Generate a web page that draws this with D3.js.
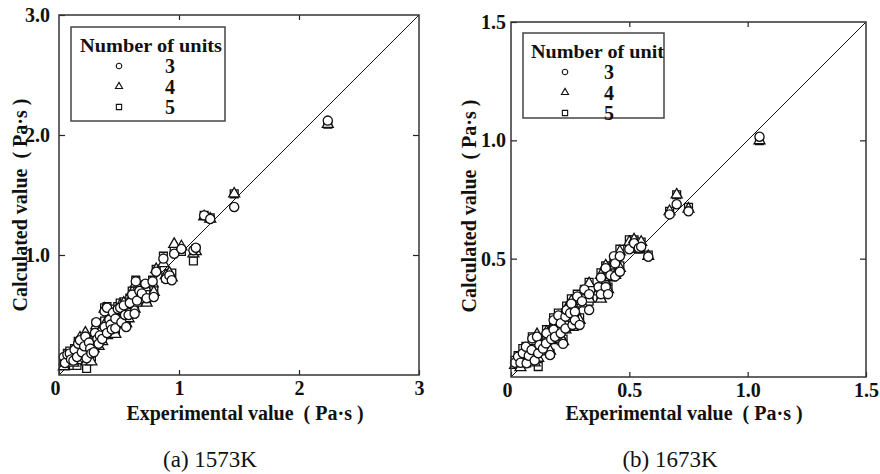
<!DOCTYPE html>
<html>
<head>
<meta charset="utf-8">
<script src="https://cdn.jsdelivr.net/npm/d3@7"></script>
<style>
  html, body { margin: 0; padding: 0; background: #fff; }
  svg text { font-family: "Liberation Serif", "Times New Roman", serif; }
  .axis path { display: none; }
  .axis line { stroke: #222; stroke-width: 1.2; }
  .axis text { font-size: 20px; font-weight: bold; fill: #111; font-family: "Liberation Serif", serif; }
</style>
</head>
<body>
<svg id="chart" width="880" height="474"></svg>
<script>
// (a) 1573K : experimental value and calculated values for 3, 4 and 5 units
const expA   = [0.04,0.05,0.07,0.09,0.10,0.12,0.13,0.15,0.16,0.175,0.19,0.21,0.22,0.23,0.25,0.26,0.27,0.29,0.30,0.31,0.32,0.33,0.34,0.36,0.38,0.38,0.40,0.40,0.42,0.43,0.44,0.45,0.47,0.47,0.49,0.51,0.52,0.54,0.55,0.56,0.58,0.59,0.61,0.63,0.64,0.65,0.67,0.69,0.72,0.73,0.78,0.79,0.81,0.87,0.89,0.92,0.94,0.96,1.02,1.12,1.14,1.21,1.26,1.46,2.24];
const calcA3 = [0.15,0.10,0.17,0.18,0.13,0.12,0.21,0.15,0.26,0.29,0.19,0.24,0.32,0.14,0.27,0.22,0.18,0.19,0.35,0.44,0.30,0.26,0.33,0.30,0.40,0.53,0.35,0.56,0.46,0.42,0.38,0.52,0.47,0.39,0.55,0.56,0.44,0.58,0.50,0.40,0.50,0.60,0.67,0.51,0.78,0.62,0.70,0.68,0.76,0.64,0.78,0.65,0.86,0.97,0.80,0.83,0.79,1.01,1.05,1.04,1.06,1.33,1.30,1.40,2.12];
const calcA4 = [0.07,0.12,0.14,0.16,0.11,0.10,0.19,0.12,0.24,0.31,0.16,0.26,0.35,0.11,0.25,0.20,0.11,0.22,0.37,0.41,0.28,0.24,0.36,0.28,0.42,0.55,0.33,0.54,0.48,0.40,0.36,0.50,0.45,0.34,0.53,0.58,0.42,0.60,0.52,0.43,0.47,0.62,0.69,0.55,0.76,0.60,0.66,0.63,0.73,0.60,0.76,0.69,0.88,0.93,0.83,0.85,0.81,1.09,1.07,1.01,1.03,1.32,1.30,1.51,2.09];
const calcA5 = [0.10,0.09,0.18,0.20,0.12,0.08,0.22,0.08,0.28,0.27,0.14,0.22,0.30,0.055,0.29,0.24,0.15,0.24,0.33,0.43,0.32,0.28,0.31,0.32,0.45,0.56,0.38,0.57,0.44,0.44,0.40,0.55,0.49,0.37,0.57,0.60,0.46,0.61,0.54,0.45,0.52,0.64,0.70,0.57,0.79,0.64,0.68,0.66,0.75,0.62,0.79,0.71,0.88,0.99,0.81,0.84,0.85,1.04,1.03,0.95,1.05,1.33,1.31,1.51,2.09];

// (b) 1673K
const expB   = [0.017,0.03,0.04,0.05,0.063,0.066,0.075,0.087,0.09,0.10,0.11,0.115,0.12,0.135,0.148,0.15,0.165,0.17,0.18,0.18,0.186,0.20,0.21,0.21,0.22,0.23,0.23,0.235,0.25,0.255,0.26,0.27,0.27,0.28,0.29,0.30,0.31,0.33,0.33,0.37,0.38,0.38,0.40,0.40,0.41,0.42,0.435,0.44,0.44,0.46,0.46,0.50,0.52,0.54,0.55,0.58,0.67,0.70,0.75,1.05];
const calcB3 = [0.06,0.086,0.06,0.10,0.128,0.058,0.09,0.114,0.163,0.07,0.17,0.10,0.135,0.12,0.142,0.185,0.093,0.16,0.24,0.20,0.17,0.26,0.227,0.185,0.14,0.255,0.205,0.283,0.27,0.31,0.22,0.276,0.24,0.34,0.22,0.32,0.37,0.283,0.35,0.38,0.42,0.35,0.38,0.46,0.35,0.43,0.51,0.48,0.425,0.445,0.51,0.54,0.565,0.545,0.55,0.508,0.687,0.73,0.70,1.015];
const calcB4 = [0.05,0.07,0.04,0.09,0.11,0.07,0.08,0.10,0.15,0.06,0.18,0.08,0.12,0.13,0.15,0.19,0.11,0.155,0.22,0.21,0.16,0.25,0.21,0.17,0.15,0.26,0.20,0.29,0.29,0.32,0.21,0.28,0.23,0.33,0.24,0.31,0.36,0.33,0.395,0.36,0.43,0.33,0.40,0.47,0.37,0.42,0.49,0.47,0.43,0.46,0.53,0.57,0.58,0.54,0.57,0.51,0.70,0.77,0.71,0.999];
const calcB5 = [0.07,0.09,0.05,0.12,0.13,0.06,0.10,0.12,0.17,0.075,0.16,0.044,0.14,0.11,0.16,0.20,0.10,0.17,0.25,0.22,0.18,0.27,0.23,0.19,0.16,0.27,0.22,0.30,0.30,0.33,0.23,0.30,0.25,0.35,0.25,0.34,0.37,0.32,0.40,0.37,0.44,0.34,0.41,0.47,0.38,0.45,0.50,0.49,0.44,0.47,0.54,0.58,0.58,0.54,0.57,0.515,0.70,0.77,0.717,0.999];

const unitLabels = ["3", "4", "5"];

const svg = d3.select("#chart");

function drawPanel(p) {
  const x = d3.scaleLinear().domain([0, p.max]).range([p.left, p.right]);
  const y = d3.scaleLinear().domain([0, p.max]).range([p.bottom, p.top]);
  const g = svg.append("g");

  // inner ticks on all sides
  g.append("g").attr("class", "axis")
    .attr("transform", `translate(0,${p.bottom})`)
    .call(d3.axisBottom(x).tickValues(p.xTicks).tickSize(-5).tickPadding(6).tickFormat(p.xFormat));
  g.append("g").attr("class", "axis")
    .attr("transform", `translate(${p.left},0)`)
    .call(d3.axisLeft(y).tickValues(p.yTicks).tickSize(-6).tickPadding(p.yPad).tickFormat(d3.format(".1f")));
  g.append("g").attr("class", "axis")
    .attr("transform", `translate(0,${p.top})`)
    .call(d3.axisTop(x).tickValues(p.xTicks.slice(1, -1)).tickSize(-5).tickFormat(""));
  g.append("g").attr("class", "axis")
    .attr("transform", `translate(${p.right},0)`)
    .call(d3.axisRight(y).tickValues(p.yTicks.slice(0, -1)).tickSize(-6).tickFormat(""));

  // first x label sits a bit left of the corner
  g.selectAll(".axis text").filter((d) => d === 0).attr("dx", -4);

  // 1:1 line
  g.append("line")
    .attr("x1", x(0)).attr("y1", y(0)).attr("x2", x(p.max)).attr("y2", y(p.max))
    .attr("stroke", "#111").attr("stroke-width", 1);

  const shapes = [d3.symbolCircle, d3.symbolTriangle, d3.symbolSquare];
  const sizes = [66, 52, 62];
  // squares first, circles last (circles sit on top)
  [2, 1, 0].forEach((s) => {
    g.append("g").selectAll("path")
      .data(p.exp.map((e, i) => [e, p.calc[s][i]]))
      .join("path")
      .attr("transform", (d) => `translate(${x(d[0])},${y(d[1])})`)
      .attr("d", d3.symbol().type(shapes[s]).size(sizes[s]))
      .attr("fill", "#fff")
      .attr("stroke", "#111")
      .attr("stroke-width", 1.3);
  });

  // frame
  g.append("rect")
    .attr("x", p.left).attr("y", p.top)
    .attr("width", p.right - p.left).attr("height", p.bottom - p.top)
    .attr("fill", "none").attr("stroke", "#333").attr("stroke-width", 1.5);

  // legend
  const lg = g.append("g");
  lg.append("rect")
    .attr("x", p.legend.x).attr("y", p.legend.y)
    .attr("width", p.legend.w).attr("height", p.legend.h)
    .attr("fill", "#fff").attr("stroke", "#444").attr("stroke-width", 1.5);
  lg.append("text")
    .attr("x", p.legend.x + p.legend.titleDx).attr("y", p.legend.y + 25)
    .attr("font-size", 19).attr("font-weight", "bold").attr("fill", "#111")
    .attr("textLength", p.legend.titleLen).attr("lengthAdjust", "spacingAndGlyphs")
    .text(p.legend.title);
  unitLabels.forEach((u, i) => {
    const cy = p.legend.y + 39 + i * 20.5;
    lg.append("path")
      .attr("transform", `translate(${p.legend.x + p.legend.markDx},${cy})`)
      .attr("d", d3.symbol().type(shapes[i]).size([24, 22, 28][i]))
      .attr("fill", "#fff").attr("stroke", "#111").attr("stroke-width", 1.1);
    lg.append("text")
      .attr("x", p.legend.x + p.legend.numDx).attr("y", cy + 7)
      .attr("text-anchor", "middle")
      .attr("font-size", 20).attr("font-weight", "bold").attr("fill", "#111")
      .text(u);
  });

  // axis titles
  g.append("text")
    .attr("x", p.xTitleX).attr("y", 420)
    .attr("text-anchor", "middle").attr("font-size", 20).attr("font-weight", "bold").attr("fill", "#111")
    .attr("xml:space", "preserve")
    .text("Experimental value  ( Pa·s )");
  g.append("text")
    .attr("transform", `translate(${p.yTitleX},${p.yTitleY}) rotate(-90)`)
    .attr("text-anchor", "middle").attr("font-size", 20).attr("font-weight", "bold").attr("fill", "#111")
    .attr("xml:space", "preserve")
    .text("Calculated value  ( Pa·s )");

  // caption
  g.append("text")
    .attr("x", p.captionX).attr("y", 467)
    .attr("text-anchor", "middle").attr("font-size", 23).attr("fill", "#111")
    .text(p.caption);
}

drawPanel({
  left: 59, right: 419, top: 15, bottom: 375, max: 3,
  xTicks: [0, 1, 2, 3], yTicks: [1, 2, 3], xFormat: d3.format("d"), yPad: 9,
  exp: expA, calc: [calcA3, calcA4, calcA5],
  legend: { x: 71, y: 27, w: 154, h: 94, title: "Number of units", titleDx: 9, titleLen: 142, markDx: 48, numDx: 99 },
  xTitleX: 245, yTitleX: 27, yTitleY: 205, caption: "(a) 1573K", captionX: 210
});

drawPanel({
  left: 511, right: 866, top: 22, bottom: 377, max: 1.5,
  xTicks: [0, 0.5, 1, 1.5], yTicks: [0.5, 1, 1.5], xFormat: (d) => d === 0 ? "0" : d3.format(".1f")(d), yPad: 5,
  exp: expB, calc: [calcB3, calcB4, calcB5],
  legend: { x: 523, y: 33, w: 141, h: 85, title: "Number of unit", titleDx: 8, titleLen: 133, markDx: 42, numDx: 86 },
  xTitleX: 684, yTitleX: 476, yTitleY: 206, caption: "(b) 1673K", captionX: 670
});
</script>
</body>
</html>
